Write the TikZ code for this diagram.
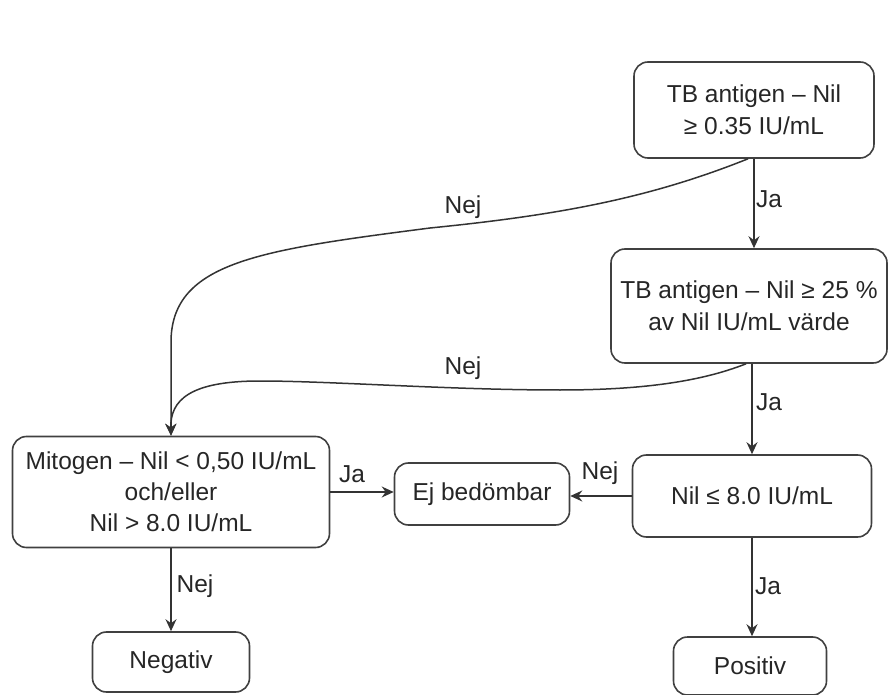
\documentclass[tikz,border=0pt]{standalone}
\usepackage{fontspec}
\setmainfont{Liberation Sans}
\usetikzlibrary{arrows.meta}
\tikzset{
	flowbox/.style={draw=black!75, line width=0.8pt, rounded corners=7pt, align=center, inner sep=0pt, text=black!85, font=\fontsize{12.25}{16}\selectfont},
	flow/.style={draw=black!80, line width=0.75pt, -{Stealth[length=6pt,width=5.5pt,inset=2pt]}},
	lbl/.style={text=black!85, inner sep=0pt, font=\fontsize{12.25}{14}\selectfont}
}

\begin{document}
\begin{tikzpicture}[x=0.5pt, y=-0.5pt]
			%%%%% START %%%%%
			\useasboundingbox (0, 0) rectangle (889, 695);
			
			\node[flowbox, minimum width=120pt, minimum height=48pt] (tbnil) at (754, 110) {TB antigen – Nil\\≥ 0.35 IU/mL};
			\node[flowbox, minimum width=138pt, minimum height=57pt] (tbpct) at (749, 306) {TB antigen – Nil ≥ 25 \%\\av Nil IU/mL värde};
			\node[flowbox, minimum width=119.5pt, minimum height=41pt] (nilmax) at (752, 496) {Nil ≤ 8.0 IU/mL};
			\node[flowbox, minimum width=87.5pt, minimum height=31pt] (ejbed) at (482, 494) {Ej bedömbar};
			\node[flowbox, minimum width=158.5pt, minimum height=55.5pt, font=\fontsize{12.25}{15.5}\selectfont] (mitogen) at (171, 492) {Mitogen – Nil < 0,50 IU/mL\\och/eller\\Nil > 8.0 IU/mL};
			\node[flowbox, minimum width=78.5pt, minimum height=30pt] (negativ) at (171, 662) {Negativ};
			\node[flowbox, minimum width=76.5pt, minimum height=29pt] (positiv) at (750, 666) {Positiv};
			
			\draw[flow] (tbnil.south) -- (tbnil.south |- tbpct.north);
			\draw[flow] ([xshift=-3pt]tbnil.south) .. controls (650, 198) and (560, 215) .. (430, 228)
				.. controls (260, 250) and (173, 262) .. (171, 340) -- (mitogen.north);
			
			\draw[flow] (tbpct.south -| nilmax.north) -- (nilmax.north);
			\draw[flow] ([xshift=-1.5pt]tbpct.south) .. controls (700, 382) and (640, 390) .. (560, 390)
				.. controls (450, 390) and (330, 381) .. (260, 381)
				.. controls (190, 381) and (170, 400) .. (mitogen.north);
			
			\draw[flow] (nilmax.west) -- (nilmax.west -| ejbed.east);
			\draw[flow] (mitogen.east) -- (mitogen.east -| ejbed.west);
			\draw[flow] (mitogen.south) -- (negativ.north);
			\draw[flow] (nilmax.south) -- (nilmax.south |- positiv.north);
			
			\node[lbl] (ja1) at (769, 199) {Ja};
			\node[lbl] (nej1) at (463, 207) {Nej};
			\node[lbl] (ja2) at (769, 402) {Ja};
			\node[lbl] (nej2) at (463, 368) {Nej};
			\node[lbl] (ja3) at (352, 474) {Ja};
			\node[lbl] (nej3) at (600, 473) {Nej};
			\node[lbl] (nej4) at (195, 586) {Nej};
			\node[lbl] (ja4) at (768, 586) {Ja};
			%%%%% END %%%%%
\end{tikzpicture}
\end{document}
